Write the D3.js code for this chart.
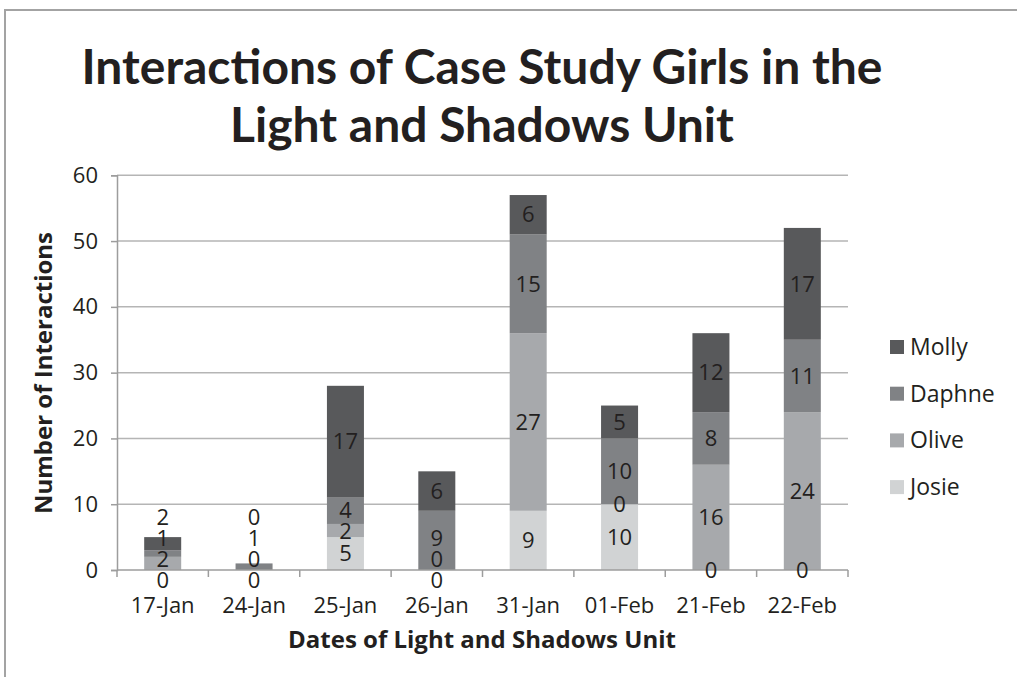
<!DOCTYPE html>
<html lang="en">
<head>
  <meta charset="UTF-8">
  <title>Interactions of Case Study Girls</title>
  <style>
    body { margin: 0; background: #fff; }
    svg { display: block; font-family: "Open Sans", Lato, sans-serif; }
  </style>
  <script src="https://d3js.org/d3.v7.min.js"></script>
</head>
<body>
  <div id="chart"></div>

  <script>
    // Data
    const dates = ['17-Jan', '24-Jan', '25-Jan', '26-Jan', '31-Jan', '01-Feb', '21-Feb', '22-Feb'];
    const seriesNames = ['Josie', 'Olive', 'Daphne', 'Molly'];
    const josie  = [0, 0, 5, 0, 9, 10, 0, 0];
    const olive  = [2, 0, 2, 0, 27, 0, 16, 24];
    const daphne = [1, 1, 4, 9, 15, 10, 8, 11];
    const molly  = [2, 0, 17, 6, 6, 5, 12, 17];
    const yTicks = [0, 10, 20, 30, 40, 50, 60];

    const width = 1017;
    const height = 677;
    const textColor = '#231f20';
    const colors = { Josie: '#d1d3d4', Olive: '#a7a9ac', Daphne: '#808285', Molly: '#58595b' };

    const rows = dates.map((d, i) => ({
      date: d, Josie: josie[i], Olive: olive[i], Daphne: daphne[i], Molly: molly[i]
    }));

    const svg = d3.select('#chart')
      .append('svg')
      .attr('width', width)
      .attr('height', height);

    // chart area border (right and bottom edges fall outside the frame)
    svg.append('rect')
      .attr('x', 5).attr('y', 10)
      .attr('width', width + 20).attr('height', height + 20)
      .attr('fill', 'none')
      .attr('stroke', '#a3a3a3')
      .attr('stroke-width', 2);

    // Title
    const title = svg.append('text')
      .attr('text-anchor', 'middle')
      .attr('font-family', 'Lato, sans-serif')
      .attr('font-weight', 'bold')
      .attr('font-size', 48)
      .attr('fill', textColor);
    title.append('tspan').attr('x', 482).attr('y', 84).text('Interactions of Case Study Girls in the');
    title.append('tspan').attr('x', 482).attr('y', 142).text('Light and Shadows Unit');

    const plot = { left: 117, right: 848, top: 175.3, bottom: 570 };

    const x = d3.scaleBand()
      .domain(dates)
      .range([plot.left, plot.right])
      .paddingInner(0.595)
      .paddingOuter(0.2975);

    const y = d3.scaleLinear()
      .domain([0, 60])
      .range([plot.bottom, plot.top]);

    // gridlines
    svg.append('g')
      .selectAll('line')
      .data(yTicks.filter(t => t > 0))
      .join('line')
      .attr('x1', plot.left).attr('x2', plot.right)
      .attr('y1', d => y(d)).attr('y2', d => y(d))
      .attr('stroke', '#b5b5b5')
      .attr('stroke-width', 1.5);

    const stack = d3.stack().keys(seriesNames)(rows);

    // bars
    svg.append('g')
      .selectAll('g')
      .data(stack)
      .join('g')
      .attr('fill', s => colors[s.key])
      .selectAll('rect')
      .data(s => s)
      .join('rect')
      .attr('x', d => x(d.data.date))
      .attr('width', x.bandwidth())
      .attr('y', d => y(d[1]))
      .attr('height', d => y(d[0]) - y(d[1]));

    // y axis
    const yAxis = svg.append('g')
      .attr('transform', `translate(${plot.left},0)`)
      .call(d3.axisLeft(y).tickValues(yTicks).tickSize(6).tickPadding(13));
    yAxis.select('.domain').attr('stroke', '#9d9d9d').attr('stroke-width', 1.5);
    yAxis.selectAll('.tick line').attr('stroke', '#9d9d9d').attr('stroke-width', 1.5);
    yAxis.selectAll('text').attr('font-size', 22).attr('fill', textColor).attr('font-family', '"Open Sans", sans-serif');

    // x axis: ticks at category boundaries
    const xAxis = svg.append('g').attr('transform', `translate(0,${plot.bottom})`);
    xAxis.append('line')
      .attr('x1', plot.left).attr('x2', plot.right)
      .attr('stroke', '#9d9d9d').attr('stroke-width', 1.5);
    const step = x.step();
    xAxis.selectAll('line.tk')
      .data(d3.range(dates.length + 1))
      .join('line')
      .attr('class', 'tk')
      .attr('x1', i => plot.left + i * step).attr('x2', i => plot.left + i * step)
      .attr('y1', 0).attr('y2', 7)
      .attr('stroke', '#9d9d9d').attr('stroke-width', 1.5);
    xAxis.selectAll('text')
      .data(dates)
      .join('text')
      .attr('x', d => x(d) + x.bandwidth() / 2)
      .attr('y', 43)
      .attr('text-anchor', 'middle')
      .attr('font-size', 22)
      .attr('fill', textColor)
      .text(d => d);

    // axis titles
    svg.append('text')
      .attr('x', 482).attr('y', 648)
      .attr('text-anchor', 'middle')
      .attr('font-size', 24).attr('font-weight', 'bold')
      .attr('fill', textColor)
      .text('Dates of Light and Shadows Unit');

    svg.append('text')
      .attr('transform', 'translate(52,373) rotate(-90)')
      .attr('text-anchor', 'middle')
      .attr('font-size', 24).attr('font-weight', 'bold')
      .attr('fill', textColor)
      .text('Number of Interactions');

    // data labels, nudged apart where segments are too thin
    const minGap = 21;
    const labelData = [];
    rows.forEach((r, i) => {
      const items = stack.map(s => ({
        date: r.date,
        value: s[i][1] - s[i][0],
        ideal: y((s[i][0] + s[i][1]) / 2)
      }));
      // items[0] is lowest on screen (largest y)
      const clusters = items.map(it => ({ items: [it], pos: it.ideal }));
      let changed = true;
      while (changed) {
        changed = false;
        for (let k = 0; k < clusters.length - 1; k++) {
          const a = clusters[k], b = clusters[k + 1];
          const aTop = a.pos - (a.items.length - 1) * minGap;
          if (aTop - b.pos < minGap) {
            const merged = a.items.concat(b.items);
            const mean = d3.mean(merged, (it, j) => it.ideal + j * minGap);
            clusters.splice(k, 2, { items: merged, pos: Math.min(mean, plot.bottom + 10) });
            changed = true;
            break;
          }
        }
      }
      clusters.forEach(c => c.items.forEach((it, k) => { it.y = c.pos - k * minGap; }));
      items.forEach(it => labelData.push(it));
    });

    svg.append('g')
      .selectAll('text')
      .data(labelData)
      .join('text')
      .attr('x', d => x(d.date) + x.bandwidth() / 2)
      .attr('y', d => d.y)
      .attr('dy', '0.35em')
      .attr('text-anchor', 'middle')
      .attr('font-size', 22)
      .attr('fill', textColor)
      .text(d => d.value);

    // legend
    const legend = svg.append('g').attr('transform', 'translate(890,347)');
    const legendOrder = seriesNames.slice().reverse();
    const li = legend.selectAll('g')
      .data(legendOrder)
      .join('g')
      .attr('transform', (d, i) => `translate(0,${i * 46.7})`);
    li.append('rect')
      .attr('x', 0).attr('y', -7)
      .attr('width', 14).attr('height', 14)
      .attr('fill', d => colors[d]);
    li.append('text')
      .attr('x', 20).attr('y', 0)
      .attr('dy', '0.35em')
      .attr('font-size', 23)
      .attr('fill', textColor)
      .text(d => d);
  </script>
</body>
</html>
